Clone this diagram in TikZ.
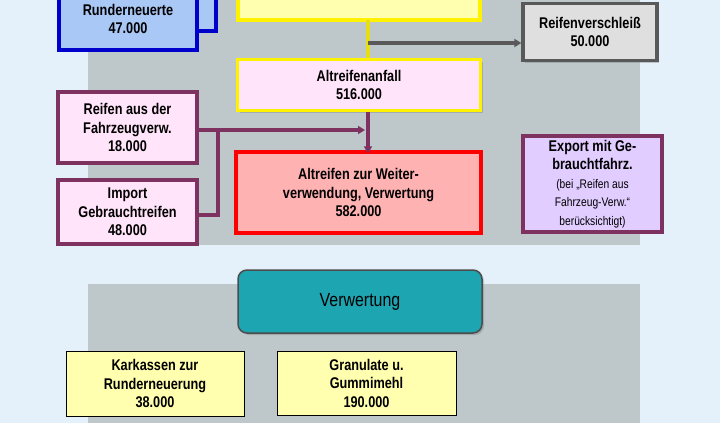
\documentclass[tikz,border=0pt]{standalone}
\usepackage{fontspec}
\setmainfont{Liberation Sans}
\usetikzlibrary{arrows.meta,shadows}

\definecolor{bgblue}{RGB}{228,240,250}
\definecolor{panel}{RGB}{190,200,202}
\definecolor{maroon}{RGB}{125,50,95}
\definecolor{pinkfill}{RGB}{255,228,250}
\definecolor{bluefill}{RGB}{170,200,245}
\definecolor{yelfill}{RGB}{255,255,175}
\definecolor{lavfill}{RGB}{225,205,255}
\definecolor{teal}{RGB}{30,165,178}

\begin{document}
\begin{tikzpicture}[
    x=1pt, y=-1pt,
    every node/.style={
        font=\bfseries\addfontfeature{FakeStretch=0.82}\fontsize{15.5}{18.5}\selectfont,
        align=center, inner sep=0pt
    },
    box/.style={rectangle, draw, line width=3.2pt, drop shadow={opacity=0.4,shadow xshift=2pt,shadow yshift=-2pt}},
    flow/.style={line width=3.2pt, -{Triangle[length=7pt,width=8pt]}}
]
    \useasboundingbox (0,0) rectangle (720,423);
    \fill[bgblue] (0,0) rectangle (720,423);
    % panels
    \fill[panel] (88,0) rectangle (640,245);
    \fill[panel] (88,284) rectangle (640,423);

    % top row
    \draw[blue!80!black, line width=3.2pt, fill=bluefill] (150,-10) rectangle (216,31);
    \node[box, draw=blue!80!black, fill=bluefill, minimum width=138pt, minimum height=62pt] (rund) at (128,19) {Runderneuerte\\47.000};
    \node[box, draw=yellow, fill=yelfill, minimum width=242pt, minimum height=32pt] (neu) at (359,4) {};
    \node[box, draw=gray!70!black, fill=gray!25, minimum width=134pt, minimum height=57pt] (versch) at (590,32) {Reifenverschleiß\\50.000};
    \node[box, draw=yellow, fill=pinkfill, minimum width=243pt, minimum height=51pt] (anfall) at (359,85) {Altreifenanfall\\516.000};
    \coordinate (split) at (368,43);
    \draw[yellow!90!black, line width=3.2pt] (368,20) -- (anfall.north -| split);
    \draw[flow, gray!70!black] (split) -- (versch.west |- split);

    % middle row
    \node[box, draw=maroon, fill=pinkfill, minimum width=139pt, minimum height=71pt] (fahrz) at (127.5,127.5) {Reifen aus der\\Fahrzeugverw.\\18.000};
    \node[box, draw=maroon, fill=pinkfill, minimum width=139pt, minimum height=64pt] (import) at (127.5,212) {Import\\Gebrauchtreifen\\48.000};
    \node[box, draw=red, fill=red!30, minimum width=245pt, minimum height=81pt] (weiter) at (358.5,192.5) {Altreifen\ zur Weiter-\\verwendung, Verwertung\\582.000};
    \node[box, draw=maroon, fill=lavfill, minimum width=139pt, minimum height=96pt] (export) at (592.5,184) {Export mit Ge-\\brauchtfahrz.\\{\mdseries\fontsize{12.5}{15}\selectfont(bei „Reifen aus}\\{\mdseries\fontsize{12.5}{15}\selectfont Fahrzeug-Verw.“}\\{\mdseries\fontsize{12.5}{15}\selectfont berücksichtigt)}};
    \coordinate (join) at (368,130);
    \coordinate (bend) at (218,130);
    \draw[flow, maroon] (anfall.south -| join) -- ([yshift=-3pt]weiter.north -| join);
    \draw[flow, maroon] (fahrz.east |- join) -- ([xshift=-3pt]join);
    \draw[maroon, line width=3.2pt] (import.east |- 0,215) -- (218,215) -- (bend);

    % lower part
    \node[rectangle, rounded corners=9pt, draw=black!70, line width=1.5pt, fill=teal, minimum width=244pt, minimum height=63pt, drop shadow={opacity=0.4,shadow xshift=2pt,shadow yshift=-2pt}, font=\addfontfeature{FakeStretch=0.84}\fontsize{19}{22}\selectfont] (verw) at (360,301.5) {Verwertung};
    \node[rectangle, draw, line width=1pt, fill=yelfill, minimum width=178pt, minimum height=65pt] (karkassen) at (155,383.5) {Karkassen zur\\Runderneuerung\\38.000};
    \node[rectangle, draw, line width=1pt, fill=yelfill, minimum width=179pt, minimum height=64pt] (granulat) at (366.5,383) {Granulate u.\\Gummimehl\\190.000};
\end{tikzpicture}
\end{document}
